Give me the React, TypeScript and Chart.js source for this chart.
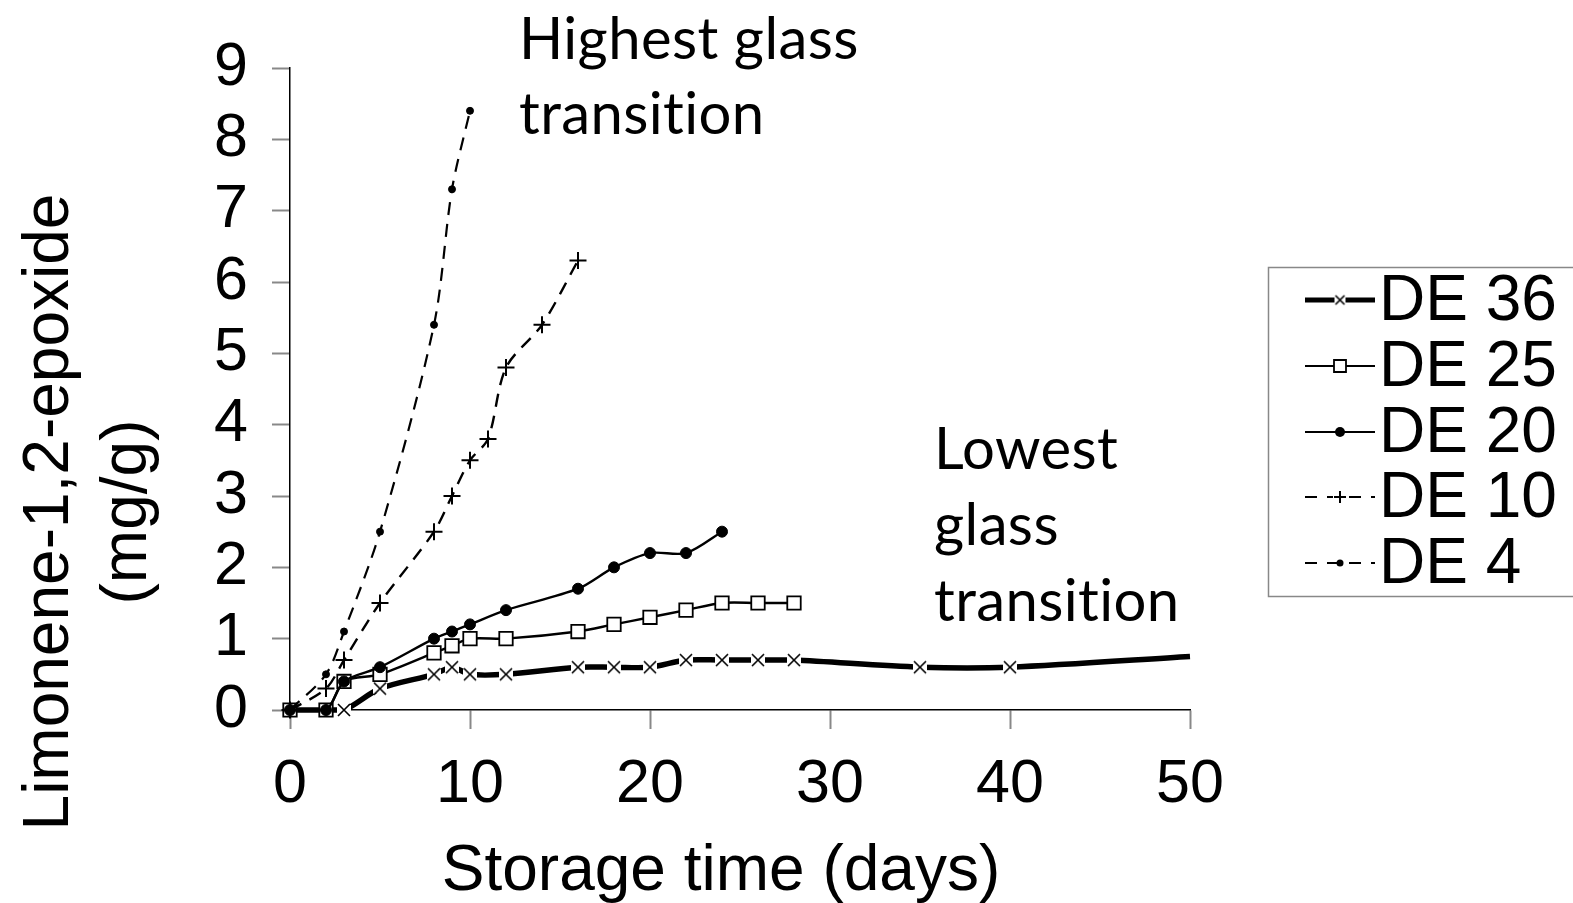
import React, { useEffect, useRef } from "react";
import { Chart, registerables } from "chart.js";

Chart.register(...registerables);

// Storage trials: limonene-1,2-epoxide formed in spray-dried powders of different DE
const seriesNames = ["DE 36", "DE 25", "DE 20", "DE 10", "DE 4"];

const de36Days = [0, 2, 3, 5, 8, 9, 10, 12, 16, 18, 20, 22, 24, 26, 28, 35, 40, 50];
const de36Values = [0, 0, 0, 0.3, 0.5, 0.6, 0.5, 0.5, 0.6, 0.6, 0.6, 0.7, 0.7, 0.7, 0.7, 0.6, 0.6, 0.75];

const de25Days = [0, 2, 3, 5, 8, 9, 10, 12, 16, 18, 20, 22, 24, 26, 28];
const de25Values = [0, 0, 0.4, 0.5, 0.8, 0.9, 1.0, 1.0, 1.1, 1.2, 1.3, 1.4, 1.5, 1.5, 1.5];

const de20Days = [0, 2, 3, 5, 8, 9, 10, 12, 16, 18, 20, 22, 24];
const de20Values = [0, 0, 0.4, 0.6, 1.0, 1.1, 1.2, 1.4, 1.7, 2.0, 2.2, 2.2, 2.5];

const de10Days = [0, 2, 3, 5, 8, 9, 10, 11, 12, 14, 16];
const de10Values = [0, 0.3, 0.7, 1.5, 2.5, 3.0, 3.5, 3.8, 4.8, 5.4, 6.3];

const de4Days = [0, 2, 3, 5, 8, 9, 10];
const de4Values = [0, 0.5, 1.1, 2.5, 5.4, 7.3, 8.4];

const xAxisTitle = "Storage time (days)";
const yAxisTitleLines = ["Limonene-1,2-epoxide", "(mg/g)"];
const upperNote = ["Highest glass", "transition"];
const lowerNote = ["Lowest", "glass", "transition"];

const X_MIN = 0;
const X_MAX = 50;
const X_STEP = 10;
const Y_MIN = 0;
const Y_MAX = 9;
const Y_STEP = 1;

const SANS = "'Liberation Sans', Arial, sans-serif";
const NOTE_FONT = "Lato, 'Open Sans', sans-serif";

const toPoints = (days: number[], values: number[]) =>
  days.map((d, i) => ({ x: d, y: values[i] }));

const DASH = [13, 9];

const styles = [
  { pointStyle: "xmark", radius: 8, bg: "#fff", pbw: 1.6, lw: 5.5, dash: [] as number[] },
  { pointStyle: "rect", radius: 9.5, bg: "#fff", pbw: 1.8, lw: 2.4, dash: [] as number[] },
  { pointStyle: "circle", radius: 5.5, bg: "#000", pbw: 1, lw: 2.4, dash: [] as number[] },
  { pointStyle: "cross", radius: 8.5, bg: "#000", pbw: 2, lw: 2.4, dash: DASH },
  { pointStyle: "circle", radius: 3.5, bg: "#000", pbw: 1, lw: 2.2, dash: DASH },
];

const seriesData = [
  toPoints(de36Days, de36Values),
  toPoints(de25Days, de25Values),
  toPoints(de20Days, de20Values),
  toPoints(de10Days, de10Values),
  toPoints(de4Days, de4Values),
];

// thin "x" on a white patch, so the heavy line breaks around each marker
function makeXMarker(size: number): HTMLCanvasElement {
  const c = document.createElement("canvas");
  c.width = size;
  c.height = size;
  const g = c.getContext("2d")!;
  g.fillStyle = "#fff";
  g.fillRect(1, 3, size - 2, size - 6);
  g.strokeStyle = "#000";
  g.lineWidth = 1.6;
  g.beginPath();
  g.moveTo(2, 2);
  g.lineTo(size - 2, size - 2);
  g.moveTo(2, size - 2);
  g.lineTo(size - 2, 2);
  g.stroke();
  return c;
}

// Titles, notes and the boxed legend are painted on top of the plot
function makeOverlay(xImgSmall: HTMLCanvasElement) {
  return {
    id: "overlay",
    afterDraw(chart: any) {
      const ctx = chart.ctx as CanvasRenderingContext2D;
      ctx.save();
      ctx.fillStyle = "#000";

      // x-axis title
      ctx.font = `64px ${SANS}`;
      ctx.textAlign = "center";
      ctx.textBaseline = "alphabetic";
      ctx.fillText(xAxisTitle, 721, 890);

      // y-axis title (two rotated lines)
      ctx.save();
      ctx.translate(0, 512);
      ctx.rotate(-Math.PI / 2);
      ctx.textAlign = "center";
      ctx.fillText(yAxisTitleLines[0], 0, 68);
      ctx.fillText(yAxisTitleLines[1], 0, 146);
      ctx.restore();

      // annotations
      ctx.font = `58px ${NOTE_FONT}`;
      ctx.textAlign = "left";
      (ctx as any).letterSpacing = "0.4px";
      upperNote.forEach((t, i) => ctx.fillText(t, 519, 59 + i * 75));
      lowerNote.forEach((t, i) => ctx.fillText(t, 934, 469 + i * 76));
      (ctx as any).letterSpacing = "0px";

      // legend box
      ctx.strokeStyle = "#888";
      ctx.lineWidth = 1.5;
      ctx.strokeRect(1268.5, 267.5, 400, 329);

      const rowY = [300, 366, 432, 497, 563];
      const mx = 1340;
      chart.data.datasets.forEach((ds: any, i: number) => {
        const y = rowY[i];
        const st = styles[i];
        ctx.save();
        ctx.strokeStyle = "#000";
        ctx.lineWidth = i === 0 ? 5 : 2.2;
        ctx.setLineDash(st.dash.length ? [12, 10] : []);
        ctx.beginPath();
        ctx.moveTo(1305, y);
        ctx.lineTo(1375, y);
        ctx.stroke();
        ctx.restore();

        ctx.save();
        ctx.fillStyle = st.bg;
        ctx.strokeStyle = "#000";
        ctx.lineWidth = st.pbw;
        ctx.beginPath();
        if (st.pointStyle === "xmark") {
          ctx.drawImage(xImgSmall, mx - xImgSmall.width / 2, y - xImgSmall.height / 2);
        } else if (st.pointStyle === "rect") {
          const s = 6;
          ctx.rect(mx - s, y - s, 2 * s, 2 * s);
          ctx.fill();
          ctx.stroke();
        } else if (st.pointStyle === "circle") {
          ctx.arc(mx, y, i === 2 ? 5 : 3.5, 0, Math.PI * 2);
          ctx.fill();
        } else {
          ctx.fillStyle = "#fff";
          ctx.fillRect(mx - 7, y - 7, 14, 14);
          const c = 6;
          ctx.moveTo(mx - c, y);
          ctx.lineTo(mx + c, y);
          ctx.moveTo(mx, y - c);
          ctx.lineTo(mx, y + c);
          ctx.stroke();
        }
        ctx.restore();

        ctx.fillStyle = "#000";
        ctx.font = `64px ${SANS}`;
        ctx.textAlign = "left";
        ctx.textBaseline = "middle";
        ctx.fillText(ds.label, 1379, y + 2);
      });
      ctx.restore();
    },
  };
}

export default function App() {
  const canvasRef = useRef<HTMLCanvasElement | null>(null);

  useEffect(() => {
    const canvas = canvasRef.current;
    if (!canvas) return;

    const xImg = makeXMarker(16);
    const xImgSmall = makeXMarker(13);

    const datasets = seriesData.map((pts, i) => {
      const st = styles[i];
      const radii = pts.map((p) => (i === 0 && p.x >= X_MAX ? 0 : st.radius));
      return {
        label: seriesNames[i],
        data: pts,
        // later series are painted over earlier ones
        order: seriesData.length - 1 - i,
        showLine: true,
        clip: false,
        borderColor: "#000",
        borderWidth: st.lw,
        borderDash: st.dash,
        tension: 0.3,
        pointStyle: st.pointStyle === "xmark" ? xImg : st.pointStyle,
        pointRadius: radii,
        pointBackgroundColor: st.bg,
        pointBorderColor: "#000",
        pointBorderWidth: st.pbw,
        fill: false,
      };
    });

    const chart = new Chart(canvas, {
      type: "scatter",
      data: { datasets: datasets as any },
      options: {
        responsive: false,
        animation: false,
        devicePixelRatio: 1,
        layout: { padding: { left: 0, top: 68, right: 383, bottom: 0 } },
        plugins: {
          legend: { display: false },
          tooltip: { enabled: false },
        },
        scales: {
          x: {
            type: "linear",
            min: X_MIN,
            max: X_MAX,
            afterFit: (s: any) => {
              s.height = 193;
            },
            ticks: {
              stepSize: X_STEP,
              autoSkip: false,
              color: "#000",
              font: { family: SANS, size: 61 },
              padding: 20,
              maxRotation: 0,
            },
            grid: {
              drawOnChartArea: false,
              drawTicks: true,
              tickLength: 19,
              tickColor: "#888",
              tickWidth: 2,
            },
            border: { color: "#000", width: 1.5 },
          },
          y: {
            type: "linear",
            min: Y_MIN,
            max: Y_MAX,
            afterFit: (s: any) => {
              s.width = 290;
            },
            ticks: {
              stepSize: Y_STEP,
              autoSkip: false,
              color: "#000",
              font: { family: SANS, size: 61 },
              padding: 24,
            },
            grid: {
              drawOnChartArea: false,
              drawTicks: true,
              tickLength: 18,
              tickColor: "#888",
              tickWidth: 2,
            },
            border: { color: "#000", width: 1.5 },
          },
        },
      },
      plugins: [makeOverlay(xImgSmall)],
    });

    return () => chart.destroy();
  }, []);

  return (
    <div style={{ position: "fixed", left: 0, top: 0, width: 1573, height: 903, background: "#fff" }}>
      <canvas ref={canvasRef} width={1573} height={903} />
    </div>
  );
}
